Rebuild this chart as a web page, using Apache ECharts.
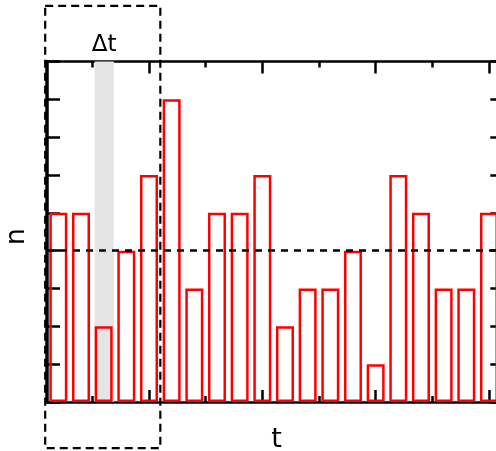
<!DOCTYPE html>
<html>
<head>
<meta charset="utf-8">
<script src="https://cdn.jsdelivr.net/npm/echarts@6/dist/echarts.min.js"></script>
<style>
html,body{margin:0;padding:0;background:#fff;}
#chart{width:496px;height:451px;}
</style>
</head>
<body>
<div id="chart"></div>
<script>
// ---- data ----
const tValues = [1,2,3,4,5,6,7,8,9,10,11,12,13,14,15,16,17,18,19,20];
const counts  = [5,5,2,4,6,8,3,5,5,6,2,3,3,4,1,6,5,3,3,5];
const meanLevel = 4;
const xMajorTicks = [5,10,15,20];
const xMinorTicks = [2.5,7.5,12.5,17.5];
const deltaBand = [2.6, 3.45];
const deltaLabel = 'Δt';
const windowT = [0.42, 5.5];
const windowN = [-1.22, 10.47];

const FONT = 'DejaVu Sans';
const chart = echarts.init(document.getElementById('chart'), null, {renderer:'canvas'});

const xMin = 0.5, xMax = 20.5;
function xAx(pos, ticks, len, showLine, name) {
  return {
    type:'value', position: pos, min:xMin, max:xMax,
    axisLine:{show:showLine, lineStyle:{color:'#000', width:2.5}},
    axisTick:{show:true, inside:true, length:len, customValues:ticks, lineStyle:{color:'#000', width:2.5}},
    axisLabel:{show:false}, splitLine:{show:false},
    name: name || '', nameLocation:'middle', nameGap:24,
    nameTextStyle:{fontFamily:FONT, fontSize:27, color:'#000', padding:[0,0,0,6]}
  };
}

const option = {
  animation:false,
  backgroundColor:'#fff',
  grid:{left:47, right:-4.3, top:61.5, bottom:49, containLabel:false, outerBoundsMode:'none'},
  xAxis:[
    xAx('bottom', xMajorTicks, 12, true, 't'),
    xAx('bottom', xMinorTicks, 6, false),
    xAx('top', xMajorTicks, 12, true),
    xAx('top', xMinorTicks, 6, false)
  ],
  yAxis:[
    {type:'value', position:'left', min:0, max:9, interval:1,
     axisLine:{show:true, lineStyle:{color:'#000', width:3.5}},
     axisTick:{show:true, inside:true, length:13, lineStyle:{color:'#000', width:2.5}},
     axisLabel:{show:false}, splitLine:{show:false},
     name:'n', nameLocation:'middle', nameGap:17, nameRotate:90,
     nameTextStyle:{fontFamily:FONT, fontSize:27, color:'#000', padding:[0,10,0,0]}},
    {type:'value', position:'right', min:0, max:9, interval:1,
     axisLine:{show:true, lineStyle:{color:'#000', width:2.5}},
     axisTick:{show:true, inside:true, length:10, lineStyle:{color:'#000', width:2.5}},
     axisLabel:{show:false}, splitLine:{show:false}}
  ],
  series:[
    {type:'line', data:[], z:1, silent:true,
     markArea:{silent:true, itemStyle:{color:'#e5e5e5'},
       data:[[{xAxis:deltaBand[0]},{xAxis:deltaBand[1]}]]}},
    {type:'bar', z:3, barWidth:18,
     data: tValues.map((t,i)=>[t, counts[i]]),
     itemStyle:{color:'rgba(0,0,0,0)', borderColor:'#ff0000', borderWidth:2.5},
     markLine:{silent:true, symbol:['none','none'], label:{show:false},
       lineStyle:{color:'#000', width:2.5, type:[7,6]},
       data:[{yAxis:meanLevel}]}}
  ]
};
chart.setOption(option);

const p1 = chart.convertToPixel({xAxisIndex:0, yAxisIndex:0}, [windowT[0], windowN[1]]);
const p2 = chart.convertToPixel({xAxisIndex:0, yAxisIndex:0}, [windowT[1], windowN[0]]);
const pl = chart.convertToPixel({xAxisIndex:0, yAxisIndex:0}, [(deltaBand[0]+deltaBand[1])/2, 9.44]);
chart.setOption({
  graphic:[
    {type:'rect', z:100, shape:{x:p1[0], y:p1[1], width:p2[0]-p1[0], height:p2[1]-p1[1]},
     style:{fill:null, stroke:'#000', lineWidth:2.2, lineDash:[8,5]}},
    {type:'text', z:100, x:pl[0], y:pl[1],
     style:{text:deltaLabel, fontFamily:FONT, fontSize:23, fill:'#000', align:'center', verticalAlign:'middle'}}
  ]
});
</script>
</body>
</html>
